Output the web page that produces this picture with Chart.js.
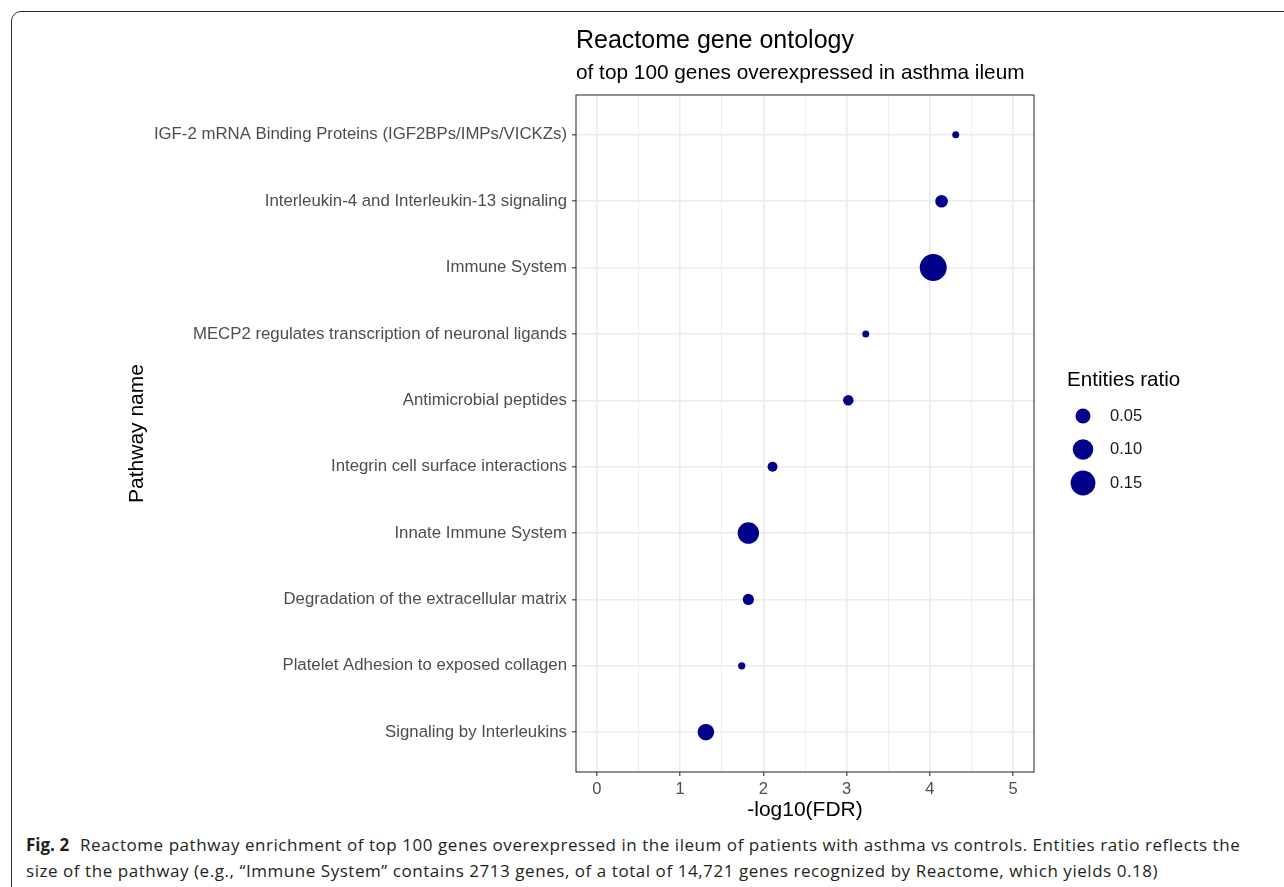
<!DOCTYPE html>
<html>
<head>
<meta charset="utf-8">
<script src="https://cdn.jsdelivr.net/npm/chart.js@4.4.1/dist/chart.umd.min.js"></script>
<style>
  body { margin: 0; background: #fff; width: 1284px; height: 887px; overflow: hidden; position: relative; }
  #frame { position: absolute; left: 11px; top: 11px; width: 1320px; height: 920px;
           border: 1.5px solid #2b2b2b; border-radius: 10px; }
  #wrap { position: absolute; left: 0; top: 0; width: 1284px; height: 830px; }
  #caption { position: absolute; left: 26px; top: 832px; font-family: "Open Sans", "Noto Sans", sans-serif;
             font-size: 17px; letter-spacing: 0.55px; line-height: 26px; color: #231f20; white-space: nowrap; }
  #caption b { font-weight: 700; margin-right: 6px; letter-spacing: 0; }
</style>
</head>
<body>
<div id="frame"></div>
<div id="wrap"><canvas id="chart" width="1284" height="830"></canvas></div>
<div id="caption">
  <div><b>Fig. 2</b> Reactome pathway enrichment of top 100 genes overexpressed in the ileum of patients with asthma vs controls. Entities ratio reflects the</div>
  <div>size of the pathway (e.g., “Immune System” contains 2713 genes, of a total of 14,721 genes recognized by Reactome, which yields 0.18)</div>
</div>
<script>
const chartTitle = "Reactome gene ontology";
const chartSubtitle = "of top 100 genes overexpressed in asthma ileum";
const xTitle = "-log10(FDR)";
const yTitle = "Pathway name";
const legendTitle = "Entities ratio";

const pathways = [
  "IGF-2 mRNA Binding Proteins (IGF2BPs/IMPs/VICKZs)",
  "Interleukin-4 and Interleukin-13 signaling",
  "Immune System",
  "MECP2 regulates transcription of neuronal ligands",
  "Antimicrobial peptides",
  "Integrin cell surface interactions",
  "Innate Immune System",
  "Degradation of the extracellular matrix",
  "Platelet Adhesion to exposed collagen",
  "Signaling by Interleukins"
];
const negLog10Fdr = [4.31, 4.14, 4.04, 3.23, 3.02, 2.11, 1.82, 1.82, 1.74, 1.31];
const entitiesRatio = [0.004, 0.032, 0.18, 0.004, 0.020, 0.017, 0.110, 0.024, 0.005, 0.062];
const xTicks = [0, 1, 2, 3, 4, 5];
const legendRatios = [0.05, 0.10, 0.15];

const pointColor = "rgb(0, 0, 139)";
const FONT = '"Liberation Sans", Arial, sans-serif';

// area grows linearly with the ratio, like ggplot's scale_size
const minRatio = Math.min(...entitiesRatio);
const maxRatio = Math.max(...entitiesRatio);
function radiusFor(v) {
  const rMin = 3.5, rMax = 13.5;
  const t = (v - minRatio) / (maxRatio - minRatio);
  return Math.sqrt(rMin * rMin + t * (rMax * rMax - rMin * rMin));
}

const decorations = {
  id: "decorations",
  afterDraw(chart) {
    const { ctx, chartArea: a } = chart;
    ctx.save();
    ctx.strokeStyle = "#333";
    ctx.lineWidth = 1.1;
    ctx.strokeRect(a.left, a.top, a.right - a.left, a.bottom - a.top);

    ctx.fillStyle = "#000";
    ctx.textBaseline = "middle";
    ctx.textAlign = "left";
    ctx.font = "25px " + FONT;
    ctx.fillText(chartTitle, a.left, 41);
    ctx.font = "20.8px " + FONT;
    ctx.fillText(chartSubtitle, a.left, 73);

    const lx = a.right + 33;
    ctx.font = "20.6px " + FONT;
    ctx.fillText(legendTitle, lx, 380);
    legendRatios.forEach((v, i) => {
      const cy = 416 + i * 33.5;
      ctx.beginPath();
      ctx.arc(lx + 16, cy, radiusFor(v), 0, Math.PI * 2);
      ctx.fillStyle = pointColor;
      ctx.fill();
      ctx.fillStyle = "#1a1a1a";
      ctx.font = "16.5px " + FONT;
      ctx.fillText(v.toFixed(2), lx + 43, cy);
    });
    ctx.restore();
  }
};

new Chart("chart", {
  type: "scatter",
  plugins: [decorations],
  data: {
    datasets: [{
      data: negLog10Fdr.map((x, i) => ({ x: x, y: i })),
      backgroundColor: pointColor,
      borderWidth: 0,
      pointRadius: (ctx) => radiusFor(entitiesRatio[ctx.dataIndex]),
      pointHoverRadius: (ctx) => radiusFor(entitiesRatio[ctx.dataIndex])
    }]
  },
  options: {
    responsive: false,
    animation: false,
    events: [],
    layout: { padding: { left: 125, right: 250, top: 95, bottom: 0 } },
    scales: {
      x: {
        type: "linear",
        min: -0.25,
        max: 5.25,
        // major ticks plus the minor half steps
        afterBuildTicks: (scale) => {
          const ticks = [];
          xTicks.forEach((v, i) => {
            ticks.push({ value: v });
            if (i < xTicks.length - 1) ticks.push({ value: v + 0.5 });
          });
          scale.ticks = ticks;
        },
        afterFit: (scale) => { scale.height = 58; },
        border: { display: false },
        grid: {
          color: "#ebebeb",
          lineWidth: (ctx) => (ctx.tick && Number.isInteger(ctx.tick.value) ? 1.6 : 0.8),
          tickColor: (ctx) => (ctx.tick && Number.isInteger(ctx.tick.value) ? "#333" : "rgba(0,0,0,0)"),
          tickWidth: 1.1,
          tickLength: 4
        },
        ticks: {
          autoSkip: false,
          maxRotation: 0,
          padding: 4,
          color: "#4d4d4d",
          font: { family: FONT, size: 16.5 },
          callback: (v) => (Number.isInteger(v) ? String(v) : "")
        },
        title: {
          display: true,
          text: xTitle,
          color: "#000",
          font: { family: FONT, size: 21 },
          padding: { top: 0, bottom: 7 }
        }
      },
      y: {
        type: "linear",
        reverse: true,
        min: -0.6,
        max: pathways.length - 0.4,
        afterBuildTicks: (scale) => {
          scale.ticks = pathways.map((_, i) => ({ value: i }));
        },
        afterFit: (scale) => { scale.width = 451; },
        border: { display: false },
        grid: {
          color: "#ebebeb",
          lineWidth: 1.6,
          tickColor: "#333",
          tickWidth: 1.1,
          tickLength: 4
        },
        ticks: {
          autoSkip: false,
          padding: 5,
          color: "#4d4d4d",
          font: { family: FONT, size: 16.8 },
          callback: (v) => pathways[v]
        },
        title: {
          display: true,
          text: yTitle,
          color: "#000",
          font: { family: FONT, size: 21 },
          padding: { top: 0, bottom: 0 }
        }
      }
    },
    plugins: {
      legend: { display: false },
      tooltip: { enabled: false }
    }
  }
});
</script>
</body>
</html>
